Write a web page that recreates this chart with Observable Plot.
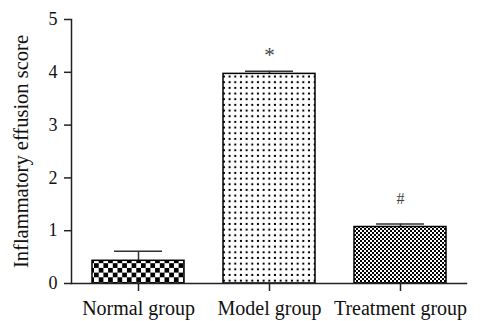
<!DOCTYPE html>
<html><head><meta charset="utf-8">
<script src="https://cdn.jsdelivr.net/npm/d3@7"></script>
<script src="https://cdn.jsdelivr.net/npm/@observablehq/plot@0.6"></script>
<style>body{margin:0;background:#fff}</style>
</head><body><div id="chart"></div>
<script>
const groups = ["Normal group", "Model group", "Treatment group"];
const means = [0.43, 3.97, 1.07];
const errors = [0.18, 0.05, 0.055];
const sigMarks = ["", "*", "#"];
const patterns = ["url(#pNormal)", "url(#pModel)", "url(#pTreat)"];
const yTicks = [0, 1, 2, 3, 4, 5];
const yLabel = "Inflammatory effusion score";

const data = groups.map((g, i) => ({
  group: g, mean: means[i], upper: means[i] + errors[i], mark: sigMarks[i], fill: patterns[i]
}));

const chart = Plot.plot({
  width: 484, height: 321,
  marginLeft: 71, marginRight: 18, marginTop: 19, marginBottom: 38,
  style: {fontFamily: "'Liberation Serif', 'Times New Roman', serif", background: "#fff", color: "#111", overflow: "visible"},
  x: {domain: groups, paddingInner: 0.3, paddingOuter: 0.152},
  y: {domain: [0, 5]},
  color: {type: "identity"},
  marks: [
    Plot.ruleX(data, {x: "group", y1: "mean", y2: "upper", stroke: "#333", strokeWidth: 1.5}),
    Plot.tickY(data, {x: "group", y: "upper", stroke: "#333", strokeWidth: 1.5, insetLeft: 22, insetRight: 22}),
    Plot.barY(data, {x: "group", y: "mean", fill: "fill", stroke: "#000", strokeWidth: 1.5}),
    Plot.text(data.filter(d => d.mark === "*"), {x: "group", y: "upper", text: "mark", dy: -9, lineAnchor: "bottom", fontSize: 21, fill: "#444"}),
    Plot.text(data.filter(d => d.mark === "#"), {x: "group", y: "upper", text: "mark", dy: -20, lineAnchor: "bottom", fontSize: 16, fill: "#444"}),
    Plot.frame({anchor: "left", stroke: "#222", strokeWidth: 1.5}),
    Plot.frame({anchor: "bottom", stroke: "#222", strokeWidth: 1.5}),
    Plot.axisY({ticks: yTicks, tickSize: 7, tickPadding: 7, fontSize: 18, label: null, tickFormat: d => String(d), stroke: "#222", strokeWidth: 1.5}),
    Plot.axisX({tickSize: 8, tickPadding: 9, fontSize: 20, label: null, stroke: "#222", strokeWidth: 1.5}),
    Plot.text([yLabel], {frameAnchor: "left", rotate: -90, dx: -50, textAnchor: "middle", lineAnchor: "middle", fontSize: 20.5, text: d => d, fill: "#111"})
  ]
});

const ns = "http://www.w3.org/2000/svg";
const defs = document.createElementNS(ns, "defs");
defs.innerHTML = `
<pattern id="pNormal" patternUnits="userSpaceOnUse" width="9.4" height="9.4">
  <rect width="9.4" height="9.4" fill="#fff"/>
  <rect x="0" y="0" width="4.7" height="4.7" fill="#000"/>
  <rect x="4.7" y="4.7" width="4.7" height="4.7" fill="#000"/>
</pattern>
<pattern id="pModel" patternUnits="userSpaceOnUse" width="5.67" height="5.67">
  <rect width="5.67" height="5.67" fill="#fff"/>
  <rect x="1.8" y="1.8" width="2" height="2" fill="#000"/>
</pattern>
<pattern id="pTreat" patternUnits="userSpaceOnUse" width="4" height="4">
  <rect width="4" height="4" fill="#fff"/>
  <rect x="0" y="0" width="2" height="2" fill="#000"/>
  <rect x="2" y="2" width="2" height="2" fill="#000"/>
</pattern>`;
chart.insertBefore(defs, chart.firstChild);
document.getElementById("chart").appendChild(chart);
</script>
</body></html>
